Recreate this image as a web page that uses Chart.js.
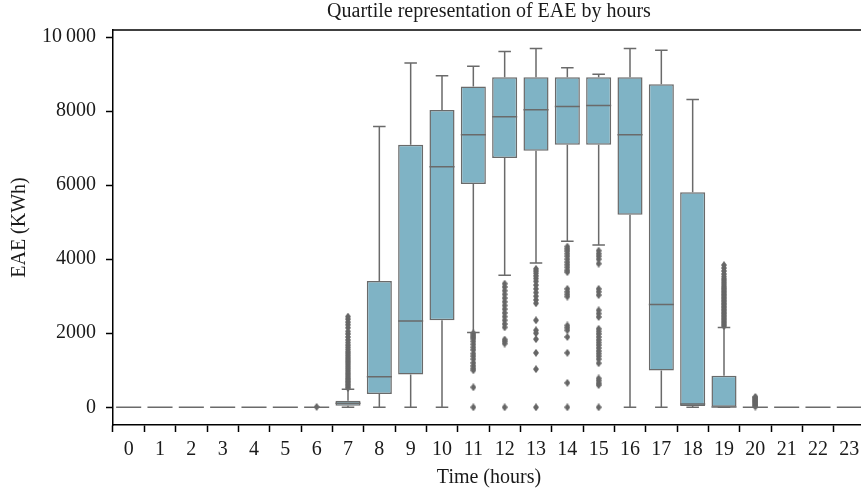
<!DOCTYPE html>
<html>
<head>
<meta charset="utf-8">
<script src="https://cdn.jsdelivr.net/npm/chart.js@4.4.1/dist/chart.umd.min.js"></script>
<style>
html,body{margin:0;padding:0;background:#fff;overflow:hidden;}
#wrap{position:relative;width:868px;height:493px;}
</style>
</head>
<body>
<div id="wrap"><canvas id="c"></canvas></div>
<script>
const hours = ['0','1','2','3','4','5','6','7','8','9','10','11','12','13','14','15','16','17','18','19','20','21','22','23'];
const q1 = [0,0,0,0,0,0,0,43,358,889,2352,6034,6735,6932,7093,7093,5199,997,35,0,0,0,0,0];
const median = [0,0,0,0,0,0,0,108,825,2333,6500,7363,7847,8036,8125,8152,7363,2775,89,10,0,0,0,0];
const q3 = [0,0,0,0,0,0,0,178,3411,7093,8028,8664,8916,8916,8916,8916,8916,8728,5808,851,0,0,0,0];
const whiskerLow = [0,0,0,0,0,0,0,0,0,0,0,2020,3564,3896,4488,4380,0,0,0,0,0,0,0,0];
const whiskerHigh = [0,0,0,0,0,0,0,485,7586,9302,8952,9213,9606,9688,9168,8998,9688,9644,8314,2155,0,0,0,0];
const outliers = [
  [],[],[],[],[],[],
  [10],
  [520,560,600,640,680,720,760,800,850,900,950,1000,1050,1100,1150,1200,1250,1300,1350,1400,1450,1500,1560,1620,1680,1750,1820,1900,1980,2050,2150,2230,2300,2380,2450],
  [],[],[],
  [2000,1950,1900,1850,1780,1700,1620,1550,1450,1380,1300,1200,1120,1050,1000,540,0],
  [3340,3250,3150,3050,2950,2850,2750,2650,2550,2450,2350,2250,2160,1830,1780,1720,0],
  [3740,3680,3620,3550,3480,3400,3300,3200,3100,3000,2900,2810,2350,2080,2000,1840,1470,1030,0],
  [4340,4280,4220,4150,4080,4000,3920,3850,3780,3700,3650,3200,3120,3050,2990,2210,2150,2080,1900,1470,660,0],
  [4230,4150,4080,4000,3880,3200,3120,3030,2620,2530,2440,2120,2050,1980,1900,1820,1750,1680,1600,1520,1450,1380,1300,1190,780,720,650,600,0],
  [],[],[],
  [2190,2230,2270,2310,2350,2390,2430,2470,2510,2550,2590,2630,2670,2710,2750,2790,2830,2870,2910,2950,2990,3030,3070,3110,3150,3190,3230,3270,3320,3370,3420,3470,3530,3600,3680,3760,3840],
  [20,50,80,110,140,170,200,230,260,280],
  [],[],[]
];
const yTickValues = [0,2000,4000,6000,8000,10000];
const yTickLabels = ['0','2000','4000','6000','8000','10\u2009000'];

const BOX = '#7fb3c5', EDGE = '#6a6a6a', FLIER = '#666666';
const FONT = "'Liberation Serif', 'DejaVu Serif', serif";

// thin diamond marker like matplotlib 'd'
const dia = document.createElement('canvas');
dia.width = 6; dia.height = 8;
(function(){const g=dia.getContext('2d');g.fillStyle=FLIER;g.beginPath();g.moveTo(3,0);g.lineTo(6,4);g.lineTo(3,8);g.lineTo(0,4);g.closePath();g.fill();})();

const flierPts = [];
outliers.forEach((arr,i)=>arr.forEach(v=>flierPts.push({x:hours[i],y:v})));

const boxPlugin = {
  id:'boxdeco',
  afterDatasetsDraw(chart){
    const ctx = chart.ctx, xs = chart.scales.x, ys = chart.scales.y;
    const meta = chart.getDatasetMeta(0);
    ctx.save();
    ctx.strokeStyle = EDGE; ctx.lineWidth = 1.5; ctx.lineCap='butt';
    hours.forEach((h,i)=>{
      const el = meta.data[i];
      const x = xs.getPixelForValue(i);
      const hw = el.width/2, cw = el.width/4;
      const yq1 = ys.getPixelForValue(q1[i]), yq3 = ys.getPixelForValue(q3[i]);
      const ylo = ys.getPixelForValue(whiskerLow[i]), yhi = ys.getPixelForValue(whiskerHigh[i]);
      const ym = ys.getPixelForValue(median[i]);
      ctx.beginPath();
      if (whiskerHigh[i] > q3[i]) { ctx.moveTo(x,yq3); ctx.lineTo(x,yhi); }
      ctx.moveTo(x-cw,yhi); ctx.lineTo(x+cw,yhi);
      if (whiskerLow[i] < q1[i]) { ctx.moveTo(x,yq1); ctx.lineTo(x,ylo); }
      ctx.moveTo(x-cw,ylo); ctx.lineTo(x+cw,ylo);
      ctx.moveTo(x-hw,ym); ctx.lineTo(x+hw,ym);
      ctx.stroke();
    });
    ctx.restore();
  },
  afterDraw(chart){
    const ctx = chart.ctx, a = chart.chartArea;
    ctx.save();
    ctx.strokeStyle='#000'; ctx.lineWidth=1.5;
    ctx.beginPath(); ctx.moveTo(a.left, a.top); ctx.lineTo(chart.width, a.top); ctx.stroke();
    ctx.restore();
  }
};

new Chart(document.getElementById('c'), {
  type:'bar',
  data:{
    labels: hours,
    datasets:[
      {type:'bar', data: hours.map((h,i)=>[q1[i],q3[i]]), backgroundColor: BOX, borderColor: EDGE, borderWidth:1.5, borderSkipped:false, barPercentage:0.8, categoryPercentage:1, order:2},
      {type:'scatter', data: flierPts, pointStyle: dia, radius:3, hoverRadius:3, backgroundColor:FLIER, borderWidth:0, order:1}
    ]
  },
  options:{
    responsive:true, maintainAspectRatio:false, animation:false,
    events:[],
    layout:{padding:{left:0,right:0,top:0,bottom:0}},
    plugins:{
      legend:{display:false}, tooltip:{enabled:false},
      title:{display:true, fullSize:false, text:'Quartile representation of EAE by hours', color:'#1a1a1a', font:{family:FONT,size:20,weight:'normal'}, padding:{top:0,bottom:6}}
    },
    scales:{
      x:{
        type:'category', offset:true,
        grid:{display:true, drawOnChartArea:false, drawTicks:true, tickLength:7, tickWidth:1.5, tickColor:'#000'},
        border:{display:true, color:'#000', width:1.5},
        ticks:{color:'#1a1a1a', font:{family:FONT,size:20}, padding:6, maxRotation:0, autoSkip:false},
        title:{display:true, text:'Time (hours)', color:'#1a1a1a', font:{family:FONT,size:20}, padding:{top:0,bottom:3}},
        afterFit(s){ s.height = 68; }
      },
      y:{
        min:-478, max:10190,
        afterBuildTicks(s){ s.ticks = yTickValues.map(v=>({value:v})); },
        grid:{display:true, drawOnChartArea:false, drawTicks:true, tickLength:7, tickWidth:1.5, tickColor:'#000'},
        border:{display:true, color:'#000', width:1.5},
        ticks:{color:'#1a1a1a', font:{family:FONT,size:20}, padding:10, callback:(v,i)=>yTickLabels[i]},
        title:{display:true, text:'EAE (KWh)', color:'#1a1a1a', font:{family:FONT,size:20}, padding:{top:8,bottom:0}},
        afterFit(s){ s.width = 113; }
      }
    }
  },
  plugins:[boxPlugin]
});
</script>
</body>
</html>
